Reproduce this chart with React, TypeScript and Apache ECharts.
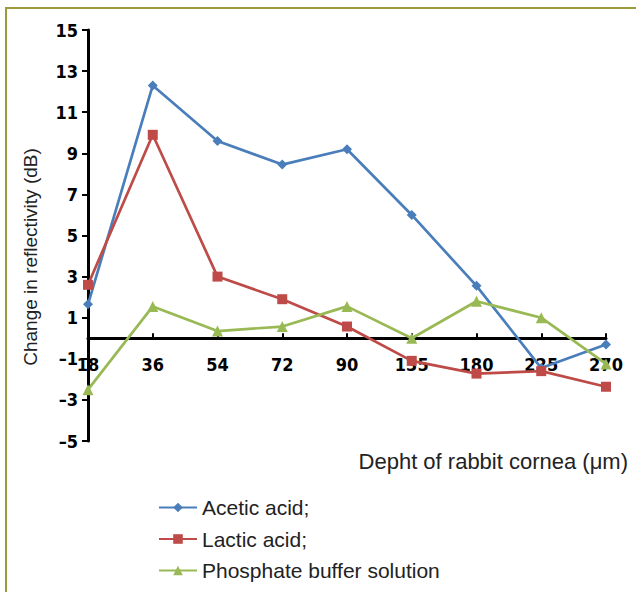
import React, { useEffect, useRef } from "react";
import * as echarts from "echarts";

const categories = ["18", "36", "54", "72", "90", "135", "180", "225", "270"];
const acetic = [1.65, 12.3, 9.6, 8.45, 9.2, 6.0, 2.55, -1.45, -0.3];
const lactic = [2.6, 9.9, 3.0, 1.9, 0.57, -1.1, -1.72, -1.6, -2.36];
const phosphate = [-2.5, 1.55, 0.35, 0.57, 1.55, 0, 1.8, 1.0, -1.25];
const yTicks = [-5, -3, -1, 1, 3, 5, 7, 9, 11, 13, 15];
const seriesNames = ["Acetic acid;", "Lactic acid;", "Phosphate buffer solution"];

const narrow = "'Liberation Sans Narrow', 'DejaVu Sans Condensed', 'Arial Narrow', sans-serif";
const sans = "'Liberation Sans', Arial, Helvetica, sans-serif";

const yMin = -5;
const yMax = 15;
const gridTop = 30;
const gridBottom = 151;
const chartH = 592;

export default function App() {
  const ref = useRef<HTMLDivElement>(null);
  useEffect(() => {
    document.body.style.margin = "0";
    if (!ref.current) return;
    const chart = echarts.init(ref.current, null, { renderer: "svg" });
    const plotH = chartH - gridTop - gridBottom;
    const zeroOffset = -(plotH * (0 - yMin)) / (yMax - yMin);
    chart.setOption({
      animation: false,
      backgroundColor: "#ffffff",
      grid: { left: 88, right: 30, top: gridTop, bottom: gridBottom },
      legend: {
        orient: "vertical",
        left: 153,
        top: 492,
        itemGap: 10.5,
        itemWidth: 38,
        itemHeight: 12,
        textStyle: { fontSize: 21, fontFamily: sans, color: "#222" },
        data: seriesNames,
      },
      graphic: [
        {
          type: "rect",
          shape: { x: 6, y: 8, width: 700, height: 700 },
          style: { fill: "none", stroke: "#9C9A3A", lineWidth: 2 },
          silent: true,
        },
        {
          type: "text",
          right: 8,
          top: 450,
          style: {
            text: "Depht of rabbit cornea (\u03bcm)",
            fontSize: 22,
            fontFamily: sans,
            fill: "#222",
          },
        },
        {
          type: "text",
          x: 30,
          y: 257,
          rotation: Math.PI / 2,
          style: {
            text: "Change in reflectivity (dB)",
            fontSize: 19,
            fontFamily: sans,
            fill: "#222",
            align: "center",
            verticalAlign: "middle",
          },
        },
      ],
      xAxis: {
        type: "category",
        data: categories,
        boundaryGap: false,
        offset: zeroOffset,
        axisLine: { onZero: false, lineStyle: { color: "#000", width: 3 } },
        axisTick: { show: true, inside: true, length: 5, lineStyle: { color: "#000", width: 2 } },
        axisLabel: {
          fontSize: 18,
          fontWeight: "bold",
          fontFamily: narrow,
          color: "#000",
          margin: 17,
          interval: 0,
        },
        splitLine: { show: false },
      },
      yAxis: {
        type: "value",
        min: yMin,
        max: yMax,
        interval: 1,
        axisLine: { show: true, onZero: false, lineStyle: { color: "#000", width: 3 } },
        axisTick: { show: true, length: 6, lineStyle: { color: "#000", width: 2 }, customValues: yTicks },
        axisLabel: {
          fontSize: 18,
          fontWeight: "bold",
          fontFamily: narrow,
          color: "#000",
          margin: 10,
          customValues: yTicks,
          formatter: (v: number) => (v < 0 ? "\u2013" + Math.abs(v) : String(v)),
        },
        splitLine: { show: false },
      },
      series: [
        {
          name: seriesNames[0],
          type: "line",
          data: acetic,
          symbol: "diamond",
          symbolSize: 10,
          color: "#4A7EBB",
          lineStyle: { width: 2.7 },
        },
        {
          name: seriesNames[1],
          type: "line",
          data: lactic,
          symbol: "rect",
          symbolSize: 10,
          color: "#BE4B48",
          lineStyle: { width: 2.7 },
        },
        {
          name: seriesNames[2],
          type: "line",
          data: phosphate,
          symbol: "triangle",
          symbolSize: 11,
          color: "#98B954",
          lineStyle: { width: 2.7 },
        },
      ],
    });
    return () => chart.dispose();
  }, []);
  return <div ref={ref} style={{ width: 636, height: 592 }} />;
}
